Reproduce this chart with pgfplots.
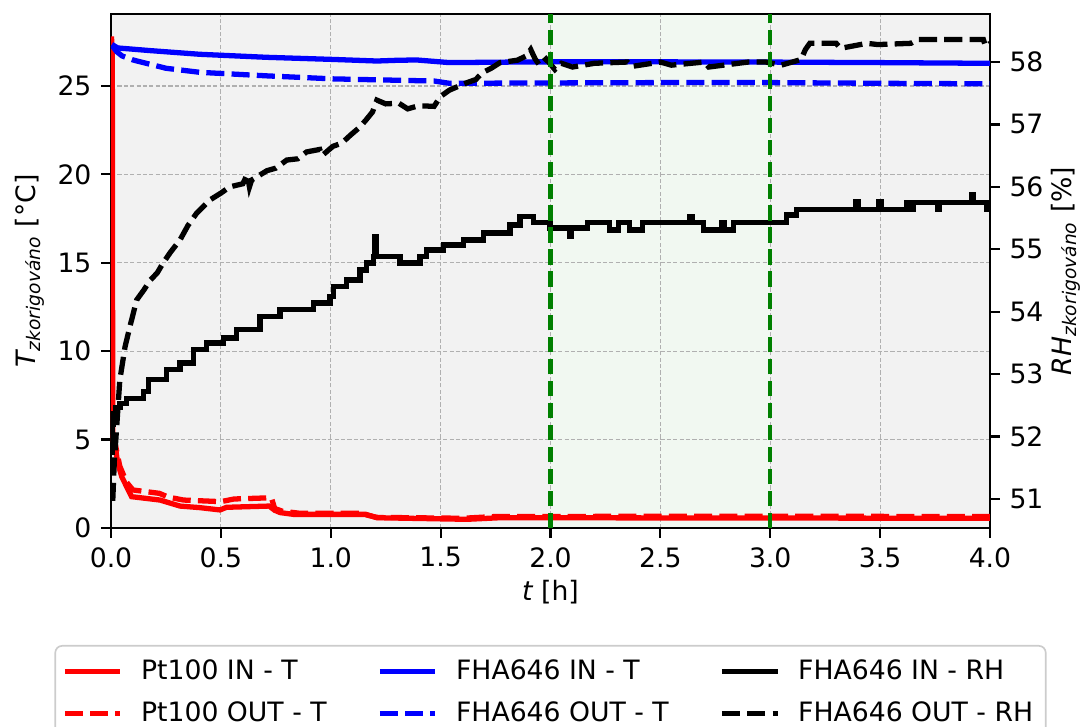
\documentclass[border=0pt]{standalone}
\usepackage{fontspec}
\setmainfont{DejaVu Sans}
\usepackage{pgfplots}
\pgfplotsset{compat=1.18}

\definecolor{bgc}{HTML}{F2F2F2}
\definecolor{spanc}{HTML}{F1F8F1}
\definecolor{mplgreen}{HTML}{008000}
\definecolor{gridc}{HTML}{B0B0B0}
\definecolor{legc}{HTML}{CCCCCC}
\newcommand\fs{\fontsize{9.6}{11.5}\selectfont}

\pgfplotsset{
  twin/.style={scale only axis, width=316.44pt, height=185.04pt,
    at={(0,0)}, anchor=south west, xmin=0, xmax=4, set layers,
    tick align=outside, major tick length=3.5pt,
    tick style={black, line width=0.8pt},
    axis line style={black, line width=0.9pt},
    tick label style={font=\fs},
    /pgf/number format/assume math mode=true},
  solidln/.style={line width=1.9pt},
  dashln/.style={line width=1.9pt, dash pattern=on 6.5pt off 2.6pt},
}

\begin{document}
\begin{tikzpicture}
\begin{axis}[twin, name=main, ymin=0, ymax=29.07, tickpos=left,
  xtick={0,0.5,1,1.5,2,2.5,3,3.5,4}, ytick={0,5,10,15,20,25},
  xticklabel style={/pgf/number format/.cd, fixed, fixed zerofill, precision=1},
  grid=major, grid style={gridc, line width=0.4pt, dash pattern=on 1.5pt off 0.8pt}]
  % background and 2-3 h window
  \addplot[draw=none, fill=bgc, on layer=axis background, forget plot]
    coordinates {(0,29.07) (4,29.07)} \closedcycle;
  \addplot[draw=none, fill=spanc, on layer=axis background, forget plot]
    coordinates {(2,29.07) (3,29.07)} \closedcycle;
  % Pt100 IN - T
  \addplot[red, solidln] coordinates {
    (0.002,27.8) (0.006,27.0) (0.008,5.0) (0.02,4.6) (0.03,3.7) (0.049,2.9)
    (0.071,2.34) (0.094,1.77) (0.223,1.58) (0.314,1.24) (0.405,1.15)
    (0.496,1.02) (0.526,1.17) (0.72,1.24) (0.745,1.0) (0.77,0.87)
    (0.83,0.77) (1.16,0.77) (1.21,0.58) (1.62,0.49) (1.77,0.58)
    (2.5,0.57) (3.2,0.56) (4.0,0.55)};
  % Pt100 OUT - T
  \addplot[red, dashln] coordinates {
    (0.008,5.3) (0.02,4.7) (0.04,3.5) (0.07,2.6) (0.1,2.15) (0.22,1.96)
    (0.26,1.75) (0.33,1.58) (0.5,1.49) (0.56,1.64) (0.73,1.71) (0.745,1.1)
    (0.78,0.95) (0.86,0.83) (1.13,0.83) (1.21,0.6) (1.6,0.55) (1.75,0.65)
    (2.5,0.66) (3.2,0.66) (4.0,0.65)};
  % FHA646 IN - T
  \addplot[blue, solidln] coordinates {
    (0.004,27.35) (0.03,27.15) (0.177,27.0) (0.405,26.79) (0.708,26.62)
    (1.01,26.5) (1.21,26.41) (1.3,26.45) (1.39,26.47) (1.54,26.32)
    (1.92,26.36) (2.22,26.37) (3.0,26.35) (3.5,26.32) (4.0,26.28)};
  % FHA646 OUT - T
  \addplot[blue, dashln] coordinates {
    (0.004,27.3) (0.026,26.94) (0.05,26.7) (0.1,26.47) (0.25,26.0)
    (0.405,25.77) (0.71,25.57) (1.01,25.4) (1.31,25.32) (1.47,25.28)
    (1.54,25.15) (2.0,25.17) (2.5,25.19) (3.0,25.19) (3.5,25.15) (4.0,25.12)};
\end{axis}

\begin{axis}[twin, axis x line=none, axis y line*=right,
  ymin=50.535, ymax=58.77, ytick={51,52,53,54,55,56,57,58},
  legend columns=3,
  legend image code/.code={\draw[#1] (0pt,0pt) -- (20pt,0pt);},
  legend cell align=left,
  legend style={at={(0.5,-0.2276)}, anchor=north, draw=legc, line width=0.6pt,
    rounded corners=2.5pt, fill=white, font=\fs, inner xsep=2.5pt, inner ysep=3pt,
    row sep=2.5pt,
    /tikz/every even column/.append style={column sep=16.2pt},
    /tikz/every odd column/.append style={column sep=4.5pt}}]
  \addlegendimage{red, solidln}   \addlegendentry{Pt100 IN - T}
  \addlegendimage{blue, solidln}  \addlegendentry{FHA646 IN - T}
  \addlegendimage{black, solidln} \addlegendentry{FHA646 IN - RH}
  \addlegendimage{red, dashln}    \addlegendentry{Pt100 OUT - T}
  \addlegendimage{blue, dashln}   \addlegendentry{FHA646 OUT - T}
  \addlegendimage{black, dashln}  \addlegendentry{FHA646 OUT - RH}
  % FHA646 IN - RH
  \addplot[black, solidln, const plot, forget plot] coordinates {
    (0.004,51.75) (0.008,52.2) (0.011,52.37) (0.02,52.46) (0.041,52.53)
    (0.071,52.61) (0.147,52.72) (0.170,52.91) (0.253,53.07) (0.314,53.18)
    (0.375,53.39) (0.435,53.5) (0.511,53.58) (0.572,53.71) (0.678,53.92)
    (0.769,54.03) (0.921,54.14) (0.997,54.24) (1.012,54.4) (1.072,54.51)
    (1.133,54.67) (1.164,54.78) (1.194,54.88) (1.200,55.2) (1.206,54.88)
    (1.315,54.78) (1.406,54.88) (1.437,54.99) (1.512,55.07) (1.603,55.15)
    (1.694,55.26) (1.816,55.39) (1.861,55.52) (1.922,55.43) (1.998,55.34)
    (2.086,55.2) (2.093,55.34) (2.17,55.43) (2.27,55.31) (2.31,55.43)
    (2.36,55.31) (2.42,55.43) (2.635,55.52) (2.645,55.43) (2.695,55.31)
    (2.78,55.43) (2.79,55.31) (2.832,55.43) (3.075,55.55) (3.12,55.64)
    (3.39,55.76) (3.40,55.64) (3.495,55.76) (3.505,55.64) (3.62,55.75)
    (3.635,55.64) (3.651,55.75) (3.76,55.64) (3.77,55.75) (3.915,55.87)
    (3.925,55.75) (3.985,55.64) (4.0,55.64)};
  % FHA646 OUT - RH
  \addplot[black, dashln, forget plot] coordinates {
    (0.008,50.97) (0.015,51.6) (0.026,52.16) (0.04,52.9) (0.064,53.44)
    (0.086,53.76) (0.117,54.19) (0.15,54.35) (0.177,54.5) (0.21,54.62)
    (0.237,54.78) (0.27,54.95) (0.314,55.15) (0.35,55.38) (0.39,55.58)
    (0.45,55.79) (0.50,55.9) (0.54,56.0) (0.60,56.05) (0.62,56.2) (0.63,56.0)
    (0.64,56.11) (0.71,56.26) (0.75,56.3) (0.80,56.43) (0.85,56.45) (0.89,56.56)
    (0.95,56.6) (0.96,56.5) (1.01,56.65) (1.05,56.7) (1.09,56.83) (1.13,56.95)
    (1.16,57.07) (1.19,57.2) (1.21,57.39) (1.25,57.33) (1.31,57.34)
    (1.35,57.25) (1.40,57.3) (1.47,57.29) (1.50,57.45) (1.54,57.55) (1.62,57.67)
    (1.66,57.72) (1.69,57.83) (1.73,57.9) (1.77,57.99) (1.85,58.03)
    (1.89,58.1) (1.91,58.2) (1.93,58.05) (1.95,57.95) (1.98,58.05) (2.02,57.88)
    (2.05,57.98) (2.10,57.92) (2.2,57.98) (2.35,58.0) (2.37,57.93) (2.5,58.0)
    (2.55,57.95) (2.7,58.0) (2.72,57.92) (2.9,58.0) (2.98,58.0) (3.05,57.95)
    (3.14,58.04) (3.16,58.2) (3.18,58.3) (3.30,58.3) (3.32,58.22) (3.44,58.3)
    (3.49,58.28) (3.64,58.3) (3.67,58.36) (3.97,58.36) (3.98,58.25) (4.0,58.3)};
  % window boundaries
  \addplot[mplgreen, line width=1.5pt, dash pattern=on 5.5pt off 2.4pt, forget plot]
    coordinates {(2,50.535) (2,58.77)};
  \addplot[mplgreen, line width=1.5pt, dash pattern=on 5.5pt off 2.4pt, forget plot]
    coordinates {(3,50.535) (3,58.77)};
\end{axis}

\node[font=\fs, rotate=90] at ([xshift=-29.2pt]main.west)
  {{\itshape T}\textsubscript{\itshape zkorigováno} [°C]};
\node[font=\fs, rotate=90] at ([xshift=27.2pt]main.east)
  {{\itshape RH}\textsubscript{\itshape zkorigováno} [\%]};
\node[font=\fs] at ([yshift=-23pt]main.south) {{\itshape t} [h]};

\pgfresetboundingbox
\useasboundingbox (-39.96pt,-71.64pt) rectangle (352.08pt,190.08pt);
\end{tikzpicture}
\end{document}
